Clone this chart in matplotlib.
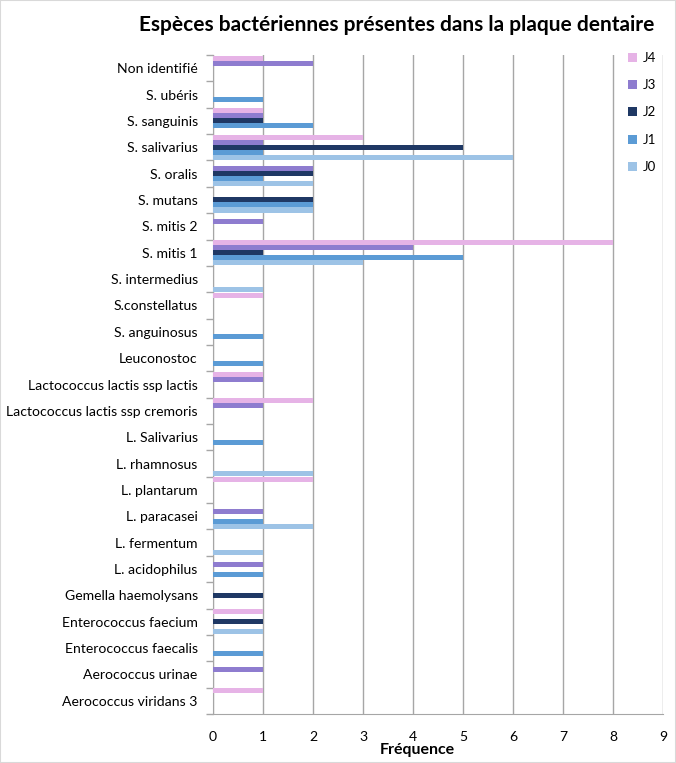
import numpy as np
import matplotlib.pyplot as plt
from matplotlib.patches import Rectangle

plt.rcParams['font.family'] = ['Lato', 'DejaVu Sans']

# categories from bottom to top
especes = [
    "Aerococcus viridans 3", "Aerococcus urinae", "Enterococcus faecalis",
    "Enterococcus faecium", "Gemella haemolysans", "L. acidophilus",
    "L. fermentum", "L. paracasei", "L. plantarum", "L. rhamnosus",
    "L. Salivarius", "Lactococcus lactis ssp cremoris",
    "Lactococcus lactis ssp lactis", "Leuconostoc", "S. anguinosus",
    "S.constellatus", "S. intermedius", "S. mitis 1", "S. mitis 2",
    "S. mutans", "S. oralis", "S. salivarius", "S. sanguinis",
    "S. ubéris", "Non identifié",
]

j0 = [0, 0, 0, 1, 0, 0, 1, 2, 0, 2, 0, 0, 0, 0, 0, 0, 1, 3, 0, 2, 2, 6, 0, 0, 0]
j1 = [0, 0, 1, 0, 0, 1, 0, 1, 0, 0, 1, 0, 0, 1, 1, 0, 0, 5, 0, 2, 1, 1, 2, 1, 0]
j2 = [0, 0, 0, 1, 1, 0, 0, 0, 0, 0, 0, 0, 0, 0, 0, 0, 0, 1, 0, 2, 2, 5, 1, 0, 0]
j3 = [0, 1, 0, 0, 0, 1, 0, 1, 0, 0, 0, 1, 1, 0, 0, 0, 0, 4, 1, 0, 2, 1, 1, 0, 2]
j4 = [1, 0, 0, 1, 0, 0, 0, 0, 2, 0, 0, 2, 1, 0, 0, 1, 0, 8, 0, 0, 0, 3, 1, 0, 1]

series = ["J0", "J1", "J2", "J3", "J4"]
valeurs = [j0, j1, j2, j3, j4]
couleurs = ["#9DC3E6", "#5B9BD5", "#1F3864", "#8E7CCF", "#E6B3E6"]

fig = plt.figure(figsize=(6.76, 7.63), dpi=100)
ax = fig.add_axes([213 / 676, 1 - 714 / 763, 450 / 676, (714 - 55) / 763])

y = np.arange(len(especes))
h = 0.19
for k, (nom, vals, c) in enumerate(zip(series, valeurs, couleurs)):
    ax.barh(y + (k - 2) * h, vals, height=h, color=c, label=nom, zorder=3)

ax.set_xlim(0, 9)
ax.set_ylim(-0.5, len(especes) - 0.5)
ax.set_xticks(range(10))
ax.set_yticks(y)
ax.set_yticklabels(especes, fontsize=10.1)
ax.set_yticks(np.arange(-0.5, len(especes)), minor=True)
ax.tick_params(axis='y', which='major', length=0, pad=11)
ax.tick_params(axis='y', which='minor', length=5, color='#A6A6A6', width=1)
ax.tick_params(axis='x', length=0, labelsize=10.1, pad=12)
ax.grid(axis='x', color='#A6A6A6', linewidth=1, zorder=0)

for s in ['top', 'right']:
    ax.spines[s].set_visible(False)
ax.spines['left'].set_color('#A6A6A6')
ax.spines['bottom'].set_color('#A6A6A6')

ax.set_xlabel("Fréquence", fontsize=11.5, fontweight='bold')
ax.xaxis.set_label_coords((417 - 213) / 450, -(750 - 714) / 659)
ax.xaxis.label.set_va('center')
fig.text(397 / 676, 1 - 25 / 763, "Espèces bactériennes présentes dans la plaque dentaire",
         ha='center', va='center', fontsize=15, fontweight='bold')

handles, labels = ax.get_legend_handles_labels()
leg = fig.legend(handles[::-1], labels[::-1], loc='upper left',
                 bbox_to_anchor=(616 / 676, 1 - 40 / 763), frameon=False,
                 fontsize=9.5, handlelength=0.7, handleheight=0.7,
                 handletextpad=0.4, labelspacing=1.16)

fig.patches.append(Rectangle((0, 0), 1, 1, transform=fig.transFigure,
                             fill=False, edgecolor='#D9D9D9', linewidth=1.5))

fig.savefig("out.png", dpi=100)
